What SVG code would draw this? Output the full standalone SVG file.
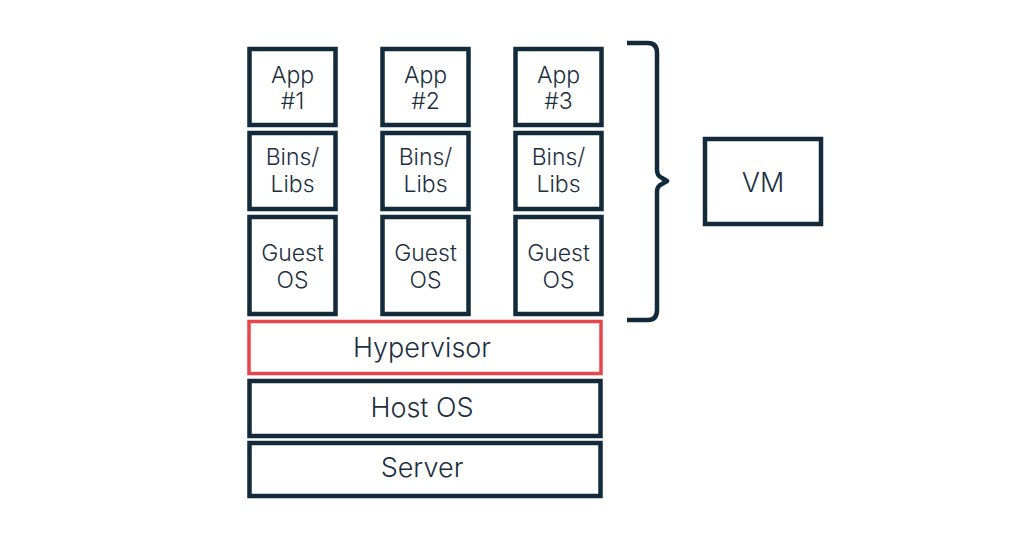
<svg xmlns="http://www.w3.org/2000/svg" width="1024" height="538" viewBox="0 0 1024 538">
<style>
.box{fill:#fff;stroke:#122a3a;stroke-width:4.5}
.red{fill:#fff;stroke:#e8444c;stroke-width:3.5}
text{font-family:Inter,"Noto Sans","Liberation Sans",sans-serif;font-weight:300;fill:#1c3040;text-anchor:middle}
.s{font-size:23px}
.l{font-size:27px}
</style>
<rect width="1024" height="538" fill="#fff"/>
<g id="app1"><rect class="box" x="249.5" y="49" width="86" height="76"/><text class="s" x="292.5" y="83">App</text><text class="s" x="292.5" y="109">#1</text></g>
<g id="bins1"><rect class="box" x="249.5" y="133" width="86" height="76"/><text class="s" x="292.5" y="165">Bins/</text><text class="s" x="292.5" y="192">Libs</text></g>
<g id="guest1"><rect class="box" x="249.5" y="217" width="86" height="97"/><text class="s" x="292.5" y="261">Guest</text><text class="s" x="292.5" y="288">OS</text></g>
<g id="app2"><rect class="box" x="382.5" y="49" width="86" height="76"/><text class="s" x="425.5" y="83">App</text><text class="s" x="425.5" y="109">#2</text></g>
<g id="bins2"><rect class="box" x="382.5" y="133" width="86" height="76"/><text class="s" x="425.5" y="165">Bins/</text><text class="s" x="425.5" y="192">Libs</text></g>
<g id="guest2"><rect class="box" x="382.5" y="217" width="86" height="97"/><text class="s" x="425.5" y="261">Guest</text><text class="s" x="425.5" y="288">OS</text></g>
<g id="app3"><rect class="box" x="515.5" y="49" width="86" height="76"/><text class="s" x="558.5" y="83">App</text><text class="s" x="558.5" y="109">#3</text></g>
<g id="bins3"><rect class="box" x="515.5" y="133" width="86" height="76"/><text class="s" x="558.5" y="165">Bins/</text><text class="s" x="558.5" y="192">Libs</text></g>
<g id="guest3"><rect class="box" x="515.5" y="217" width="86" height="97"/><text class="s" x="558.5" y="261">Guest</text><text class="s" x="558.5" y="288">OS</text></g>
<g id="hypervisor"><rect class="red" x="249" y="321.5" width="352" height="52"/><text class="l" x="422" y="357">Hypervisor</text></g>
<g id="hostos"><rect class="box" x="249.5" y="381" width="351" height="55"/><text class="l" x="422" y="417">Host OS</text></g>
<g id="server"><rect class="box" x="249.5" y="443" width="351" height="53"/><text class="l" x="422" y="477">Server</text></g>
<g id="vm"><rect class="box" x="705" y="139" width="116" height="85"/><text class="l" x="763" y="192">VM</text></g>
<g id="connectors">
<path d="M627 43 H648 Q657 43 657 53 V170 Q657 176 662 178 L667 181 L662 184 Q657 186 657 192 V310 Q657 320 648 320 H627" fill="none" stroke="#122a3a" stroke-width="4.5" stroke-linejoin="round"/>
</g>
</svg>
